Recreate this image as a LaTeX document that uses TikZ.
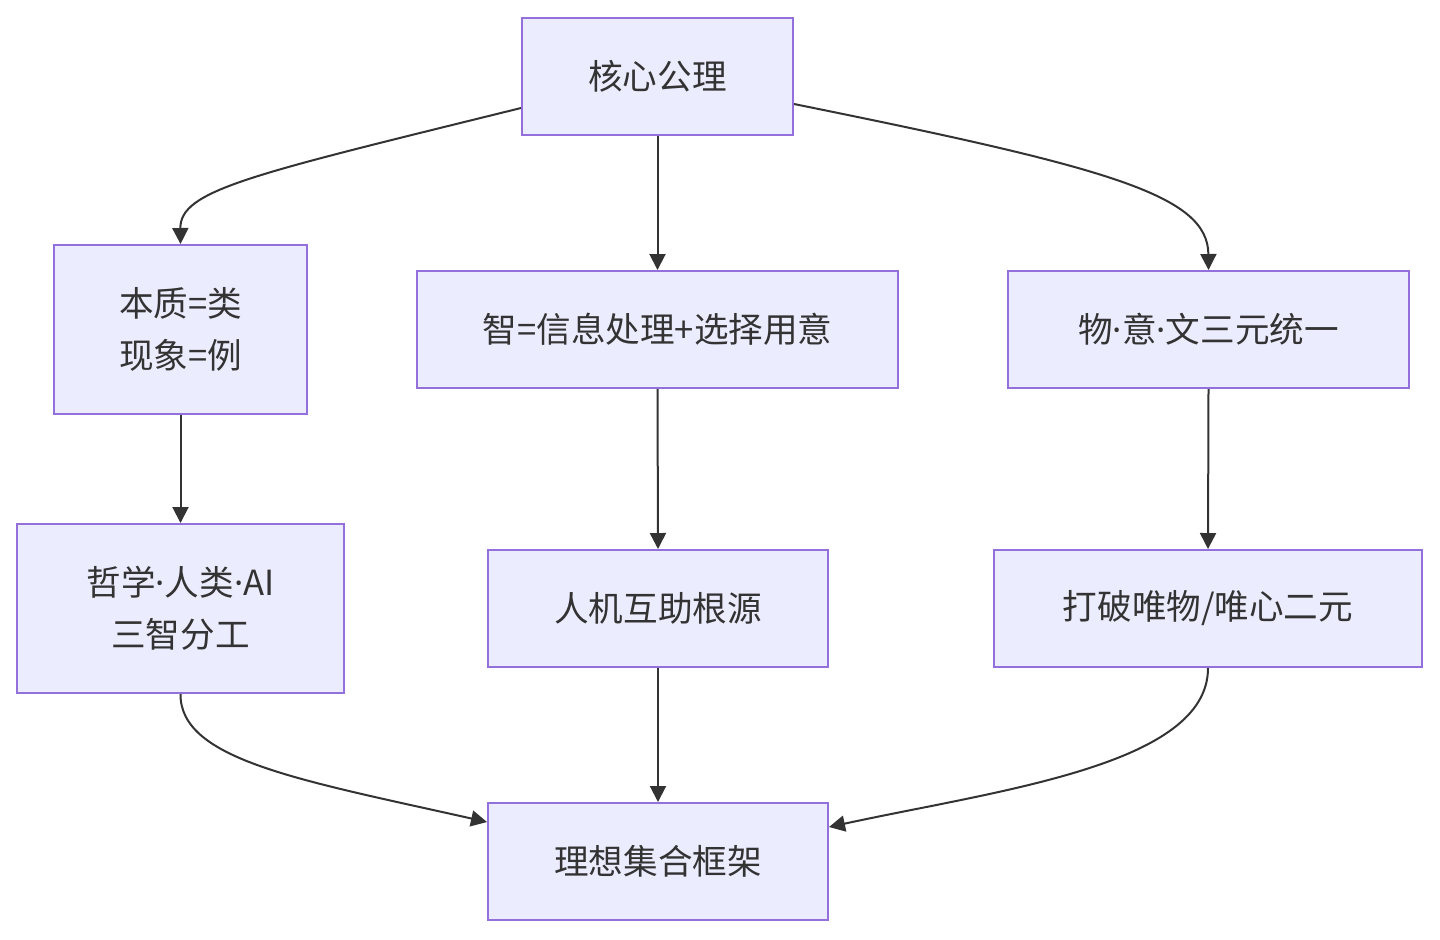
\documentclass[tikz,border=0pt]{standalone}
\usepackage{fontspec}
\setmainfont{Noto Sans CJK SC}
\newfontfamily\latinfont{Noto Sans}
\newcommand{\mdot}{{\latinfont ·}}
\usetikzlibrary{arrows.meta}
\definecolor{boxfill}{HTML}{ECECFF}
\definecolor{boxdraw}{HTML}{9370DB}
\definecolor{ink}{HTML}{333333}
\tikzset{
  box/.style={draw=boxdraw, fill=boxfill, line width=1pt, text=ink, align=center,
    font=\fontsize{17.3}{26}\selectfont, inner sep=0pt},
  link/.style={draw=ink, line width=1pt, -{Triangle[length=8pt,width=8pt]}}
}
\begin{document}
\begin{tikzpicture}[x=0.5pt,y=-0.5pt]
\useasboundingbox[fill=white] (0,0) rectangle (1440,939);
\node[box, minimum width=135.5pt, minimum height=58.5pt] (A) at (657.5,76.5) {核心公理};
\node[box, minimum width=126.5pt, minimum height=84.5pt] (B) at (180.5,329.5) {本质=类\\现象=例};
\node[box, minimum width=240.5pt, minimum height=58.5pt] (C) at (657.5,329.5) {智=信息处理+选择用意};
\node[box, minimum width=200.5pt, minimum height=58.5pt] (D) at (1208.5,329.5) {物\mdot 意\mdot 文三元统一};
\node[box, minimum width=163.5pt, minimum height=84.5pt] (E) at (180.5,608.5) {哲学\mdot 人类\mdot AI\\三智分工};
\node[box, minimum width=170pt, minimum height=58.5pt] (F) at (658,608.5) {人机互助根源};
\node[box, minimum width=214pt, minimum height=58.5pt] (G) at (1208,608.5) {打破唯物/唯心二元};
\node[box, minimum width=170pt, minimum height=58.5pt] (H) at (658,861.5) {理想集合框架};

\draw[link] (A.west |- 0,108) .. controls (250,175) and (180,190) .. (B.north);
\draw[link] (A.south) -- (C.north);
\draw[link] (A.east |- 0,104) .. controls (1110,168) and (1208,195) .. (D.north);
\draw[link] (B.south) -- (E.north);
\draw[link] (C.south) -- (F.north);
\draw[link] (D.south) -- (G.north);
\draw[link] (F.south) -- (H.north);
\draw[link] (E.south) .. controls (180,760) and (300,780) .. (H.west |- 0,822);
\draw[link] (G.south) .. controls (1208,765) and (1000,790) .. (H.east |- 0,827);
\end{tikzpicture}
\end{document}
